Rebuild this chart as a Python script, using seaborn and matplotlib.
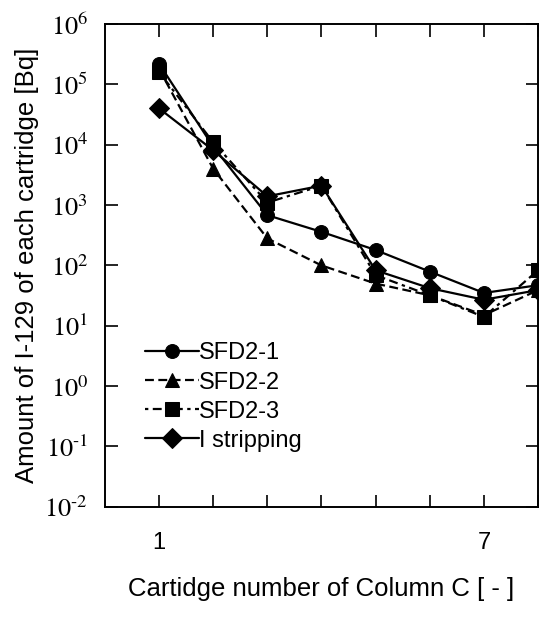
import pandas as pd
import seaborn as sns
import matplotlib.pyplot as plt
import numpy as np

cartridge = [1, 2, 3, 4, 5, 6, 7, 8]

sfd2_1 = [2.2e5, 9.3e3, 680, 360, 180, 79, 35, 47]
sfd2_2 = [1.8e5, 4.0e3, 280, 100, 50, 32, 15, 39]
sfd2_3 = [1.6e5, 1.1e4, 1.1e3, 2.1e3, 69, 32, 14, 83]
i_strip = [4.0e4, 8.1e3, 1.4e3, 2.1e3, 83, 42, 27, 39]

names = ['SFD2-1', 'SFD2-2', 'SFD2-3', 'I stripping']

df = pd.concat([
    pd.DataFrame({'x': cartridge, 'y': vals, 'run': n})
    for n, vals in zip(names, [sfd2_1, sfd2_2, sfd2_3, i_strip])
])

sns.set_style('ticks')
plt.rcParams['font.family'] = ['Liberation Sans', 'DejaVu Sans']
plt.rcParams['mathtext.fontset'] = 'stix'
for k in ['text.color', 'axes.labelcolor', 'xtick.color', 'ytick.color', 'axes.edgecolor']:
    plt.rcParams[k] = 'black'

fig = plt.figure(figsize=(5.41, 6.18), dpi=100)
ax = fig.add_axes([0.194, 0.180, 0.8005, 0.781])

sns.lineplot(data=df, x='x', y='y', hue='run', style='run',
             palette={n: 'black' for n in names},
             markers={'SFD2-1': 'o', 'SFD2-2': '^', 'SFD2-3': 's', 'I stripping': 'D'},
             dashes={'SFD2-1': '', 'SFD2-2': (4, 2), 'SFD2-3': (1.5, 2, 4, 2), 'I stripping': ''},
             markersize=10, linewidth=1.6, markeredgecolor='black', ax=ax)

ax.set_yscale('log')
ax.set_ylim(1e-2, 1e6)
ax.set_xlim(0, 8)
ax.set_yticks([10.0 ** k for k in range(-2, 7)])
ax.set_yticklabels([r'$10^{\text{-}%d}$' % -k if k < 0 else r'$10^{%d}$' % k for k in range(-2, 7)],
                   fontsize=19)
ax.yaxis.set_minor_locator(plt.NullLocator())
ax.set_xticks(cartridge)
ax.set_xticklabels(['1', '', '', '', '', '', '7', ''], fontsize=17)

ax.tick_params(axis='both', direction='in', length=9, width=1.2, top=True, right=True)
ax.tick_params(axis='y', pad=12)
ax.tick_params(axis='x', pad=18)
for s in ax.spines.values():
    s.set_linewidth(1.4)

ax.set_xlabel('Cartidge number of Column C [ - ]', fontsize=18.5, labelpad=17)
ax.set_ylabel('Amount of I-129 of each cartridge [Bq]', fontsize=18.5, labelpad=4)

leg = ax.legend(loc='upper left', bbox_to_anchor=(0.07, 0.36), frameon=False,
                fontsize=17, handlelength=2.3, handletextpad=0.0,
                labelspacing=0.3, borderaxespad=0)

fig.savefig('out.png', dpi=100)
